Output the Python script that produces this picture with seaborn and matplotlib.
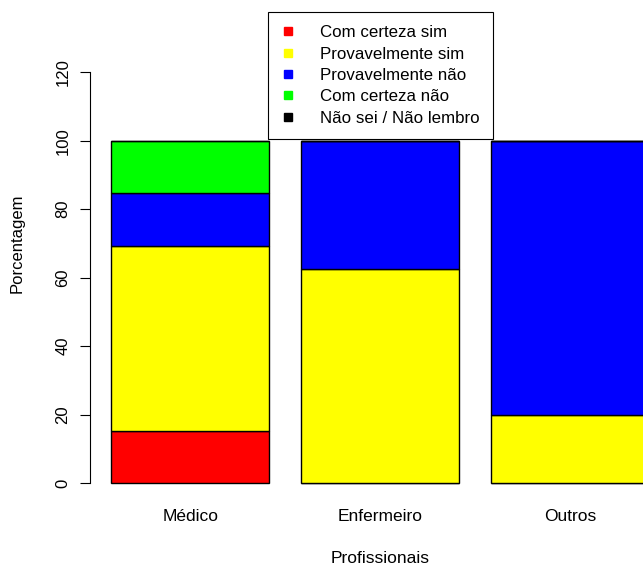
import numpy as np
import matplotlib
matplotlib.use("Agg")
import matplotlib.pyplot as plt
from matplotlib.lines import Line2D
import seaborn as sns

# Data: percentage of answers per professional group
categories = ["Médico", "Enfermeiro", "Outros"]
responses = ["Com certeza sim", "Provavelmente sim", "Provavelmente não",
             "Com certeza não", "Não sei / Não lembro"]
com_certeza_sim = [15.4, 0.0, 0.0]
provavelmente_sim = [53.8, 62.5, 20.0]
provavelmente_nao = [15.4, 37.5, 80.0]
com_certeza_nao = [15.4, 0.0, 0.0]
nao_sei = [0.0, 0.0, 0.0]
series = [com_certeza_sim, provavelmente_sim, provavelmente_nao, com_certeza_nao, nao_sei]
colors = ["#FF0000", "#FFFF00", "#0000FF", "#00FF00", "#000000"]
y_ticks = [0, 20, 40, 60, 80, 100, 120]

sns.set_style("white")
plt.rcParams["font.family"] = ["Liberation Sans", "DejaVu Sans"]
plt.rcParams["text.color"] = "black"
plt.rcParams["axes.labelcolor"] = "black"
plt.rcParams["xtick.color"] = "black"
plt.rcParams["ytick.color"] = "black"

fig = plt.figure(figsize=(6.43, 5.67), dpi=100)
# plot region runs past the right and top edges of the canvas
ax = fig.add_axes([89.5 / 643, 0.1138, 581.3 / 643, 0.9136])

bottom = np.zeros(len(categories))
for values, color in zip(series, colors):
    sns.barplot(x=categories, y=values, color=color, saturation=1,
                width=1 / 1.2, bottom=bottom.copy(), edgecolor="black",
                linewidth=1.0, errorbar=None, ax=ax)
    bottom += np.array(values)

ax.set_xlim(-0.53, 2.53)
ax.set_ylim(-5.6, 145.6)

for side in ["top", "right", "bottom"]:
    ax.spines[side].set_visible(False)
ax.spines["left"].set_color("black")
ax.spines["left"].set_linewidth(0.8)
ax.spines["left"].set_bounds(0, 120)

ax.set_yticks(y_ticks)
ax.set_yticklabels([str(t) for t in y_ticks])
ax.tick_params(axis="y", length=7.2, width=0.8, color="black", pad=6.5,
               labelsize=12, left=True, labelcolor="black")
plt.setp(ax.get_yticklabels(), rotation=90, va="center")
ax.tick_params(axis="x", length=0, pad=4.5, labelsize=12.5, labelcolor="black")

ax.set_xlabel("Profissionais", fontsize=12.5, va="top", color="black")
ax.xaxis.set_label_coords(0.5, -0.094)
ax.set_ylabel("Porcentagem", fontsize=12, va="bottom", color="black")
ax.yaxis.set_label_coords(-0.1118, 0.5)

handles = [Line2D([], [], marker="s", linestyle="", markersize=5.2,
                  markerfacecolor=c, markeredgecolor=c) for c in colors]
leg = fig.legend(handles, responses, loc="upper left",
                 bbox_to_anchor=(268 / 643, 1 - 11.7 / 567),
                 borderaxespad=0, fontsize=12.2, frameon=True, fancybox=False,
                 framealpha=1, edgecolor="black", borderpad=0.8,
                 handlelength=0.8, handletextpad=1.45, labelspacing=0.375)
leg.get_frame().set_linewidth(0.8)
for t in leg.get_texts():
    t.set_color("black")

fig.savefig("out.png", dpi=100)
